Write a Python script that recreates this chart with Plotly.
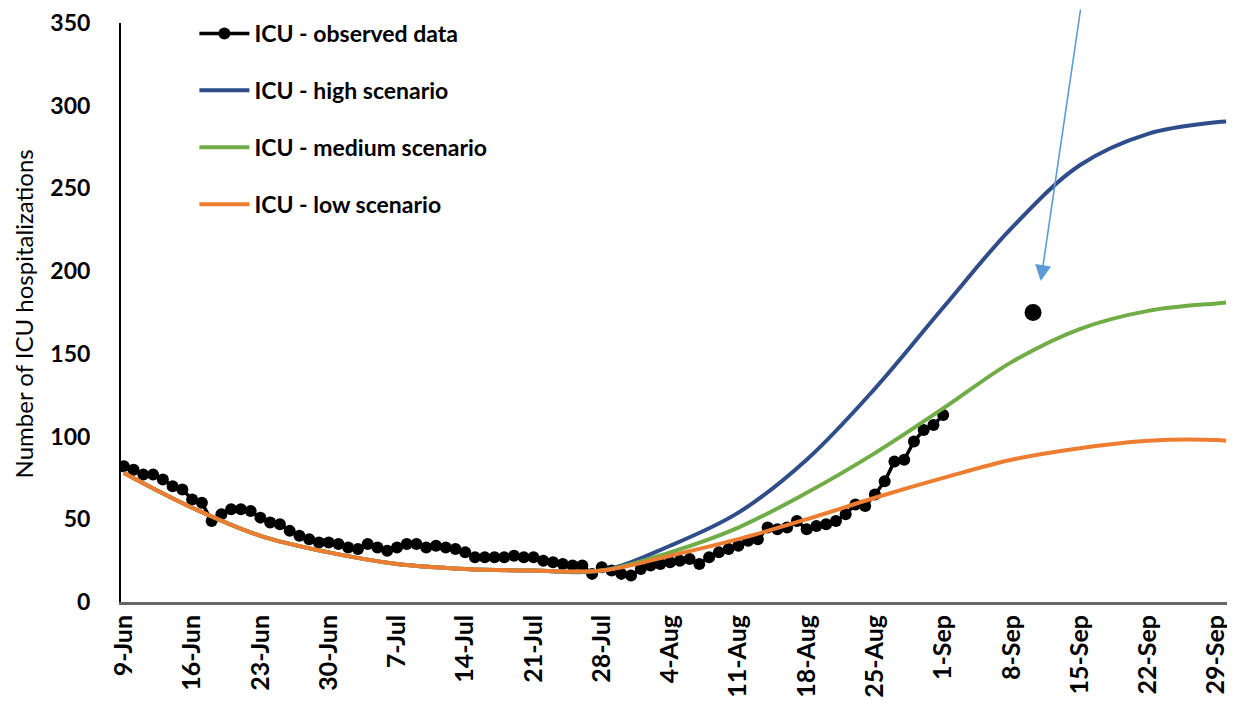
import pandas as pd
import plotly.graph_objects as go

start = "2020-06-09"
obs_values = [82, 80, 77, 77, 74, 70, 68, 62, 60, 49,
              53, 56, 56, 55, 51, 48, 47, 43, 40, 38,
              36, 36, 35, 33, 32, 35, 33, 31, 33, 35,
              35, 33, 34, 33, 32, 30, 27, 27, 27, 27,
              28, 27, 27, 25, 24, 23, 22, 22, 17, 21,
              19, 17, 16, 20, 22, 23, 24, 25, 26, 23,
              27, 30, 32, 34, 37, 38, 45, 44, 45, 49,
              44, 46, 47, 49, 53, 59, 58, 65, 73, 85,
              86, 97, 104, 107, 113]
obs_dates = pd.date_range(start, periods=len(obs_values), freq="D")

scen_dates = ["2020-06-09", "2020-06-16", "2020-06-23", "2020-06-30", "2020-07-07",
              "2020-07-14", "2020-07-21", "2020-07-28", "2020-08-04", "2020-08-11",
              "2020-08-18", "2020-08-25", "2020-09-01", "2020-09-08", "2020-09-15",
              "2020-09-22", "2020-09-29", "2020-09-30"]
high_values = [78, 57, 40, 30, 23, 20, 19, 19, 34, 54, 86, 129, 178, 226, 264, 283, 290, 290.5]
medium_values = [78, 57, 40, 30, 23, 20, 19, 19, 30, 45, 66, 90, 117, 145, 165, 176, 180.5, 181]
low_values = [78, 57, 40, 30, 23, 20, 19, 19, 28, 38, 50, 63, 75, 86, 93, 97.5, 98, 97.5]

extra_date = ["2020-09-10 05:00"]
extra_value = [175]

tick_dates = pd.date_range(start, periods=17, freq="7D")
tick_text = ["9-Jun", "16-Jun", "23-Jun", "30-Jun", "7-Jul", "14-Jul", "21-Jul", "28-Jul",
             "4-Aug", "11-Aug", "18-Aug", "25-Aug", "1-Sep", "8-Sep", "15-Sep", "22-Sep", "29-Sep"]
y_ticks = [0, 50, 100, 150, 200, 250, 300, 350]

font_family = "Lato"

fig = go.Figure()
fig.add_trace(go.Scatter(x=obs_dates, y=obs_values, mode="lines+markers",
                         name="ICU - observed data", legendgroup="a",
                         line=dict(color="black", width=3.5),
                         marker=dict(color="black", size=12)))
fig.add_trace(go.Scatter(x=scen_dates, y=high_values, mode="lines", line_shape="spline",
                         name="ICU - high scenario", legendgroup="b",
                         line=dict(color="#2E4D8A", width=4)))
fig.add_trace(go.Scatter(x=scen_dates, y=medium_values, mode="lines", line_shape="spline",
                         name="ICU - medium scenario", legendgroup="c",
                         line=dict(color="#70AD47", width=4)))
fig.add_trace(go.Scatter(x=scen_dates, y=low_values, mode="lines", line_shape="spline",
                         name="ICU - low scenario", legendgroup="d",
                         line=dict(color="#ED7D31", width=4)))
fig.add_trace(go.Scatter(x=extra_date, y=extra_value, mode="markers", showlegend=False,
                         marker=dict(color="black", size=17)))

fig.add_annotation(x="2020-09-11 00:00", y=194, ax=40, ay=-278, text="",
                   showarrow=True, arrowhead=2, arrowsize=2, arrowwidth=1.6,
                   arrowcolor="#5B9BD5", standoff=0)

fig.add_annotation(text="Number of ICU hospitalizations", textangle=-90,
                   xref="paper", yref="paper", x=-0.088, y=0.497,
                   xanchor="center", yanchor="middle", showarrow=False,
                   font=dict(size=24, family=font_family, color="black"))

fig.update_layout(
    width=1227, height=715,
    margin=dict(l=113, r=2, t=15, b=121),
    plot_bgcolor="white", paper_bgcolor="white",
    font=dict(family=font_family, color="black"),
    legend=dict(x=0.066, y=1.019, xanchor="left", yanchor="top",
                traceorder="grouped", tracegroupgap=24,
                font=dict(size=23, family=font_family, weight="bold", color="black"),
                bgcolor="rgba(0,0,0,0)", itemwidth=50),
    showlegend=True,
)
fig.update_xaxes(range=[pd.Timestamp(start) - pd.Timedelta(hours=7),
                        pd.Timestamp("2020-09-30") + pd.Timedelta(hours=17)],
                 tickvals=tick_dates, ticktext=tick_text, tickangle=-90,
                 tickfont=dict(size=25, weight="bold", family=font_family),
                 showgrid=False, showline=True, linecolor="#666666", linewidth=3,
                 ticks="", zeroline=False, automargin=False, ticklabeloverflow="allow")
fig.update_yaxes(range=[0, 350], tickvals=y_ticks,
                 tickfont=dict(size=23, weight="bold", family=font_family),
                 showgrid=False, showline=True, linecolor="black", linewidth=2,
                 ticks="", zeroline=False, ticklabelstandoff=24, automargin=False,
                 ticklabeloverflow="allow")

fig.write_html("out.html")
